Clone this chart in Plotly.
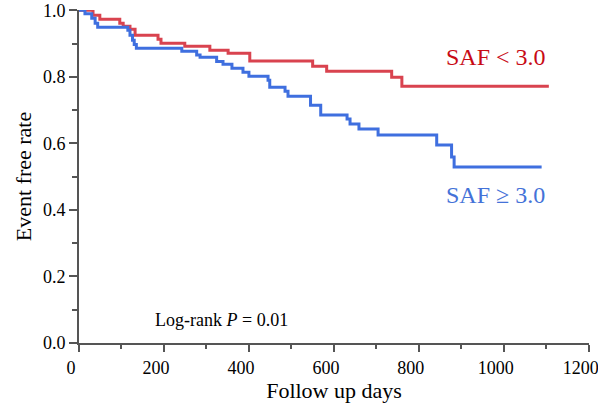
import plotly.graph_objects as go

# SAF < 3.0 (red)
red_t = [0, 33, 49, 96, 104, 120, 132, 186, 193, 249, 308, 351, 402, 550, 583, 736, 760, 1106]
red_s = [1.0, 0.985, 0.973, 0.961, 0.952, 0.943, 0.925, 0.913, 0.901, 0.892, 0.880, 0.871, 0.848,
         0.832, 0.817, 0.799, 0.772, 0.772]

# SAF >= 3.0 (blue)
blue_t = [0, 14, 30, 38, 44, 115, 120, 126, 130, 135, 242, 277, 285, 324, 339, 360, 386, 400,
          445, 449, 485, 492, 545, 569, 631, 638, 659, 704, 842, 877, 883, 1089]
blue_s = [1.0, 0.99, 0.976, 0.961, 0.949, 0.94, 0.925, 0.91, 0.897, 0.886, 0.877, 0.866, 0.859,
          0.846, 0.838, 0.826, 0.814, 0.802, 0.790, 0.769, 0.757, 0.742, 0.715, 0.685, 0.673,
          0.658, 0.643, 0.625, 0.595, 0.559, 0.529, 0.529]

x_ticks = [0, 200, 400, 600, 800, 1000, 1200]
y_ticks = [0.0, 0.2, 0.4, 0.6, 0.8, 1.0]

FONT = "Liberation Serif"
AX = "#555555"

fig = go.Figure()
fig.add_trace(go.Scatter(x=red_t, y=red_s, mode="lines", line=dict(color="#d9434f", width=3, shape="hv"),
                         showlegend=False, hoverinfo="skip", cliponaxis=False))
fig.add_trace(go.Scatter(x=blue_t, y=blue_s, mode="lines", line=dict(color="#3f6fdf", width=3, shape="hv"),
                         showlegend=False, hoverinfo="skip", cliponaxis=False))

fig.add_annotation(x=981, y=0.859, text="SAF < 3.0", showarrow=False,
                   font=dict(family=FONT, size=24, color="#c80a14"))
fig.add_annotation(x=981, y=0.444, text="SAF ≥ 3.0", showarrow=False,
                   font=dict(family=FONT, size=24, color="#4472d8"))
fig.add_annotation(x=0.145, y=0.07, xref="paper", yref="paper", xanchor="left", yanchor="middle",
                   text="Log-rank <i>P</i> = 0.01", showarrow=False,
                   font=dict(family=FONT, size=18, color="black"))

fig.update_xaxes(range=[0, 1200.5], tickvals=x_ticks, ticks="outside", ticklen=7, tickcolor=AX, tickwidth=1.5,
                 showline=True, linecolor=AX, linewidth=2, showgrid=False, zeroline=False, automargin=False,
                 ticklabelshift=-8, ticklabeloverflow="allow",
                 tickfont=dict(family=FONT, size=18, color="black"),
                 title=dict(text="Follow up days", font=dict(family=FONT, size=22, color="black"), standoff=5),
                 minor=dict(dtick=100, ticks="outside", ticklen=4, tickcolor=AX, tickwidth=1.5))
fig.update_yaxes(range=[0, 1.001], tickvals=y_ticks, tickformat=".1f", ticks="outside", ticklen=8, tickcolor=AX,
                 tickwidth=1.5, ticklabeloverflow="allow",
                 showline=True, linecolor=AX, linewidth=2, showgrid=False, zeroline=False, automargin=False,
                 tickfont=dict(family=FONT, size=18, color="black"),
                 title=dict(text="Event free rate", font=dict(family=FONT, size=22, color="black"), standoff=5),
                 minor=dict(dtick=0.1, ticks="outside", ticklen=5, tickcolor=AX, tickwidth=1.5))

fig.update_layout(width=598, height=410, margin=dict(l=79, r=9, t=10, b=67),
                  plot_bgcolor="white", paper_bgcolor="white")
# remove the default 8px page margin so the figure fills the window exactly
fig.write_html("out.html", post_script="document.body.style.margin='0';",
               config={"displayModeBar": False})
